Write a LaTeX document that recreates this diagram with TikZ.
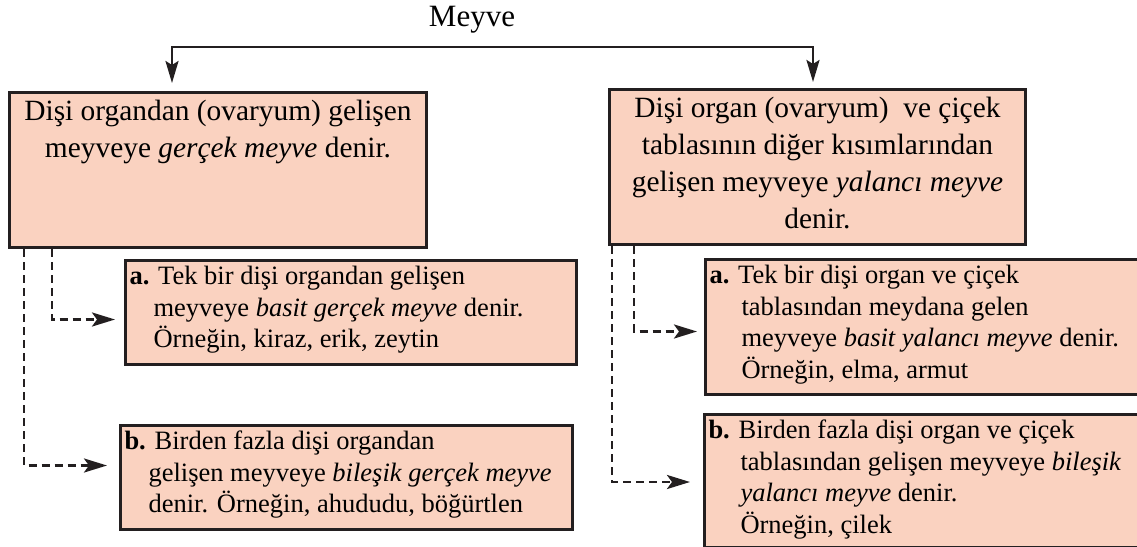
\documentclass[tikz,border=0pt]{standalone}
\usepackage{fontspec}
\setmainfont{LiberationSerif}[Extension=.ttf,UprightFont=*-Regular,BoldFont=*-Bold,ItalicFont=*-Italic,BoldItalicFont=*-BoldItalic]
\usetikzlibrary{arrows.meta}
\definecolor{box_fill}{HTML}{FAD2C0}
\definecolor{box_line}{HTML}{231F20}

\newcommand{\mainpar}[3]{\parbox[c][#1][t]{#2}{\vspace*{2pt}\fontsize{29.4}{37}\selectfont\centering\strut #3}}
\newcommand{\subpar}[4]{\parbox[c][#1][t]{#2}{\vspace*{2pt}\fontsize{26.5}{31.5}\selectfont\leftskip=4pt\hangindent=#3\hangafter=1\noindent\strut #4}}

\begin{document}
\begin{tikzpicture}[x=1pt,y=-1pt,
    fruitbox/.style={draw=box_line,fill=box_fill,line width=3pt,inner sep=0,anchor=north west},
    mainline/.style={box_line,line width=2.5pt,{Stealth[length=22pt,width=13pt,inset=4pt]}-{Stealth[length=22pt,width=13pt,inset=4pt]},shorten <=8pt,shorten >=6pt},
    dashline/.style={box_line,line width=2.8pt,dash pattern=on 8pt off 5pt,-{Stealth[length=23pt,width=14pt,inset=5pt]}}]
    \useasboundingbox (0,0) rectangle (1137,546);
    \node[anchor=base,font=\fontsize{31}{36}\selectfont] (meyve) at (472,27) {Meyve};
    % two main kinds
    \node[fruitbox] (gercek) at (8,91) {\mainpar{155pt}{417pt}{Dişi organdan (ovaryum) gelişen\\ meyveye \textit{gerçek meyve} denir.}};
    \node[fruitbox] (yalanci) at (608,88) {\mainpar{155pt}{416pt}{Dişi organ (ovaryum)\ \ ve çiçek\\ tablasının diğer kısımlarından\\ gelişen meyveye \textit{yalancı meyve}\\ denir.}};
    % sub kinds
    \node[fruitbox] (gercekA) at (124,259) {\subpar{104pt}{451pt}{24pt}{\textbf{a.} Tek bir dişi organdan gelişen\\ meyveye \textit{basit gerçek meyve} denir.\\ Örneğin, kiraz, erik, zeytin}};
    \node[fruitbox] (gercekB) at (119,424) {\subpar{104pt}{452pt}{24pt}{\textbf{b.} Birden fazla dişi organdan\\ gelişen meyveye \textit{bileşik gerçek meyve}\\ denir. Örneğin, ahududu, böğürtlen}};
    \node[fruitbox] (yalanciA) at (704,258) {\subpar{135pt}{440pt}{32pt}{\textbf{a.} Tek bir dişi organ ve çiçek\\ tablasından meydana gelen\\ meyveye \textit{basit yalancı meyve} denir.\\ Örneğin, elma, armut}};
    \node[fruitbox] (yalanciB) at (703,413) {\subpar{133pt}{441pt}{32pt}{\textbf{b.} Birden fazla dişi organ ve çiçek\\ tablasından gelişen meyveye \textit{bileşik}\\ \textit{yalancı meyve} denir.\\ Örneğin, çilek}};
    \coordinate (lbar) at (172,47);
    \coordinate (rbar) at (813,47);
    \draw[mainline] (lbar |- gercek.north) -- (lbar) -- (rbar) -- (rbar |- yalanci.north);
    \draw[dashline] ([xshift=44pt]gercek.south west) |- ([yshift=-7pt,xshift=-9pt]gercekA.west);
    \draw[dashline] ([xshift=16pt]gercek.south west) |- ([yshift=12pt,xshift=-12pt]gercekB.west);
    \draw[dashline] ([xshift=26pt]yalanci.south west) |- ([yshift=-4.5pt,xshift=-7pt]yalanciA.west);
    \draw[dashline] ([xshift=4pt]yalanci.south west) |- ([yshift=-1pt,xshift=-13pt]yalanciB.west);
\end{tikzpicture}
\end{document}
